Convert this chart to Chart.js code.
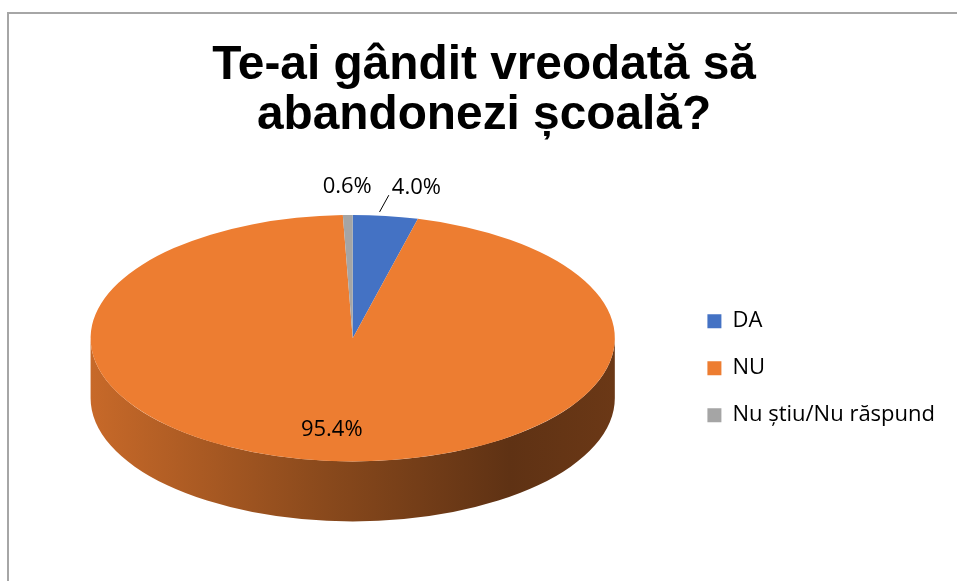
<!DOCTYPE html>
<html>
<head>
<meta charset="utf-8">
<script src="https://cdn.jsdelivr.net/npm/chart.js@4.4.1/dist/chart.umd.min.js"></script>
<style>
    html, body { margin: 0; padding: 0; background: #fff; }
    #wrap { width: 957px; height: 581px; }
</style>
</head>
<body>
<div id="wrap"><canvas id="pie-chart"></canvas></div>
<script>
const titleLines = ['Te-ai gândit vreodată să', 'abandonezi școală?'];
const categories = ['DA', 'NU', 'Nu știu/Nu răspund'];
const percentages = [4.0, 95.4, 0.6];
const sliceColors = ['#4472C4', '#ED7D31', '#A5A5A5'];

// look of the fake 3D pie
const TILT = 0.47;          // vertical / horizontal radius
const DEPTH = 60;           // height of the side wall
const WIDTH_RATIO = 0.795;  // share of the chart area width used by the pie
const LABEL_OFFSET = 28;
const LABEL_FONT = '22px "Open Sans"';

const shade = (hex, k) => {
    const n = parseInt(hex.slice(1), 16);
    const r = Math.round(((n >> 16) & 255) * k);
    const g = Math.round(((n >> 8) & 255) * k);
    const b = Math.round((n & 255) * k);
    return `rgb(${r},${g},${b})`;
};

const geometry = chart => {
    const area = chart.chartArea;
    const arc = chart.getDatasetMeta(0).data[0];
    const rx = (area.right - area.left) / 2 * WIDTH_RATIO;
    return {
        cx: arc.x,
        cy: (area.top + area.bottom) / 2 - DEPTH / 2,
        rx,
        ry: rx * TILT,
        r: arc.outerRadius,
        ox: arc.x,
        oy: arc.y
    };
};

const framePlugin = {
    id: 'frame',
    beforeDraw(chart) {
        const ctx = chart.ctx;
        ctx.save();
        ctx.strokeStyle = '#A6A6A6';
        ctx.lineWidth = 2;
        ctx.beginPath();
        ctx.moveTo(8, chart.height);
        ctx.lineTo(8, 13);
        ctx.lineTo(chart.width, 13);
        ctx.stroke();
        ctx.restore();
    }
};

const pie3dPlugin = {
    id: 'pie3d',
    beforeDatasetsDraw(chart) {
        const ctx = chart.ctx;
        const g = geometry(chart);
        const arcs = chart.getDatasetMeta(0).data;

        // side wall, only the front half is visible
        arcs.forEach((arc, i) => {
            for (let k = -1; k <= 1; k++) {
                const s = Math.max(arc.startAngle, 2 * Math.PI * k);
                const e = Math.min(arc.endAngle, 2 * Math.PI * k + Math.PI);
                if (s >= e) continue;
                ctx.beginPath();
                ctx.ellipse(g.cx, g.cy, g.rx, g.ry, 0, s, e);
                ctx.ellipse(g.cx, g.cy + DEPTH, g.rx, g.ry, 0, e, s, true);
                ctx.closePath();
                const grad = ctx.createLinearGradient(g.cx - g.rx, 0, g.cx + g.rx, 0);
                grad.addColorStop(0, shade(sliceColors[i], 0.84));
                grad.addColorStop(0.45, shade(sliceColors[i], 0.58));
                grad.addColorStop(0.8, shade(sliceColors[i], 0.4));
                grad.addColorStop(1, shade(sliceColors[i], 0.45));
                ctx.fillStyle = grad;
                ctx.fill();
            }
        });

        // squash the round pie into the top face
        ctx.save();
        ctx.translate(g.cx, g.cy);
        ctx.scale(g.rx / g.r, g.ry / g.r);
        ctx.translate(-g.ox, -g.oy);
    },
    afterDatasetsDraw(chart) {
        const ctx = chart.ctx;
        ctx.restore();

        const g = geometry(chart);
        const arcs = chart.getDatasetMeta(0).data;
        const total = percentages.reduce((a, b) => a + b, 0);

        ctx.save();
        ctx.font = LABEL_FONT;
        ctx.fillStyle = '#000';
        ctx.strokeStyle = '#000';
        ctx.lineWidth = 1;
        ctx.textAlign = 'center';
        ctx.textBaseline = 'middle';

        const outside = [];
        arcs.forEach((arc, i) => {
            const text = percentages[i].toFixed(1) + '%';
            const mid = (arc.startAngle + arc.endAngle) / 2;
            const cos = Math.cos(mid);
            const sin = Math.sin(mid);
            if (percentages[i] / total > 0.1) {
                ctx.fillText(text, g.cx + cos * g.rx * 0.75, g.cy + sin * g.ry * 0.75);
            } else {
                const ex = g.cx + cos * g.rx;
                const ey = g.cy + sin * g.ry;
                outside.push({
                    text, ex, ey,
                    x: ex + cos * LABEL_OFFSET,
                    y: ey + sin * LABEL_OFFSET,
                    w: ctx.measureText(text).width,
                    moved: false
                });
            }
        });

        // push overlapping outside labels to the right
        outside.sort((a, b) => a.x - b.x);
        for (let j = 1; j < outside.length; j++) {
            const p = outside[j - 1];
            const q = outside[j];
            const minX = p.x + p.w / 2 + 20 + q.w / 2;
            if (q.x < minX) {
                q.x = minX;
                q.moved = true;
            }
        }

        outside.forEach(l => {
            ctx.fillText(l.text, l.x, l.y);
            if (l.moved) {
                ctx.beginPath();
                ctx.moveTo(l.ex - 6, l.ey - 4);
                ctx.lineTo(l.x - l.w / 2 - 3, l.y + 7);
                ctx.stroke();
            }
        });
        ctx.restore();
    }
};

Chart.defaults.font.family = '"Open Sans"';

new Chart(document.getElementById('pie-chart'), {
    type: 'pie',
    data: {
        labels: categories,
        datasets: [{
            data: percentages,
            backgroundColor: sliceColors,
            borderWidth: 0,
            clip: false
        }]
    },
    options: {
        responsive: true,
        maintainAspectRatio: false,
        animation: false,
        events: [],
        layout: {
            padding: { left: 23, right: 12 }
        },
        plugins: {
            title: {
                display: true,
                text: titleLines,
                color: '#000',
                font: { family: 'Liberation Sans', size: 47.8, weight: 'bold', lineHeight: 1.05 },
                padding: { top: 41, bottom: 14 }
            },
            legend: {
                position: 'right',
                align: 'center',
                fullSize: false,
                labels: {
                    boxWidth: 14,
                    boxHeight: 14,
                    padding: 25,
                    color: '#000',
                    font: { family: '"Open Sans"', size: 22 }
                }
            },
            tooltip: { enabled: false }
        }
    },
    plugins: [framePlugin, pie3dPlugin]
});
</script>
</body>
</html>
